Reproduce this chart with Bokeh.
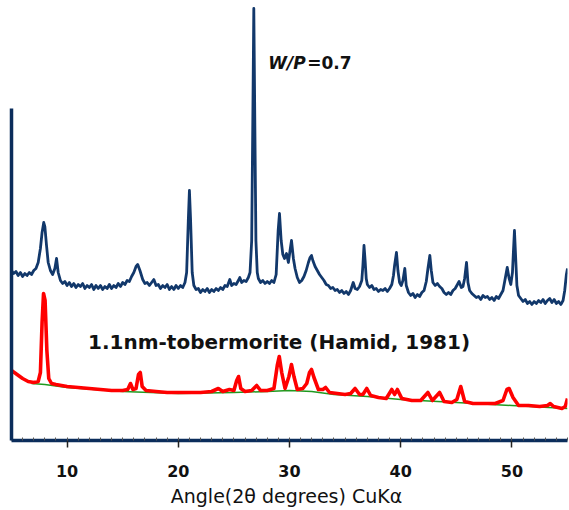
from bokeh.plotting import figure
from bokeh.models import Range1d, FixedTicker, Label
from bokeh.embed import file_html
from bokeh.resources import INLINE

# ---- data (2-theta in degrees, intensity in arbitrary units) ----
blue_x = [5.0, 5.2, 5.4, 5.6, 5.8, 6.0, 6.2, 6.4, 6.6, 6.8, 7.0, 7.2, 7.4, 7.6, 7.75, 7.9, 8.0, 8.15, 8.3, 8.5,
          8.7, 8.9, 9.05, 9.2,
          9.4, 9.6, 9.8, 10.0, 10.2, 10.4, 10.6, 10.8, 11.0, 11.2, 11.4, 11.6, 11.8, 12.0, 12.2, 12.4, 12.6, 12.8,
          13.0, 13.2, 13.4, 13.6, 13.8, 14.0, 14.2, 14.4, 14.6, 14.8, 15.0, 15.2, 15.4, 15.6, 15.8,
          16.0, 16.2, 16.35, 16.55,
          16.8, 17.0, 17.2, 17.4, 17.6, 17.8, 18.0, 18.2, 18.4, 18.6, 18.8, 19.0, 19.2, 19.4, 19.6, 19.8, 20.0,
          20.2, 20.4, 20.6,
          20.75, 20.9, 21.0, 21.1, 21.25,
          21.4, 21.6, 21.8, 22.0, 22.2, 22.4, 22.6, 22.8, 23.0, 23.2, 23.4, 23.6, 23.8, 24.0, 24.2, 24.4, 24.63,
          24.8, 25.0, 25.2, 25.4, 25.53, 25.7, 25.9, 26.1, 26.3, 26.45,
          26.6, 26.7, 26.79, 26.88, 26.98, 27.1,
          27.2, 27.4, 27.6, 27.8, 28.0, 28.2, 28.4, 28.6, 28.8,
          28.98, 29.1, 29.25, 29.4, 29.55, 29.73, 29.9, 30.05, 30.18, 30.35, 30.5, 30.7, 30.9, 31.1, 31.3, 31.5,
          31.7, 31.85, 31.98, 32.1, 32.3, 32.5, 32.7, 32.9,
          33.1, 33.3, 33.5, 33.7, 33.9, 34.1, 34.3, 34.5, 34.7, 34.9, 35.1, 35.3, 35.5,
          35.73, 35.9, 36.1, 36.3, 36.5, 36.6, 36.7, 36.8, 36.9, 37.0, 37.2, 37.4, 37.6, 37.8, 38.0, 38.2, 38.4,
          38.6, 38.8, 39.0, 39.2, 39.35, 39.45, 39.62, 39.75, 39.9, 40.05, 40.2, 40.37, 40.5, 40.7, 40.9, 41.1,
          41.3, 41.5, 41.7, 41.9, 42.1, 42.3, 42.45, 42.62, 42.75, 42.9, 43.1, 43.3, 43.5, 43.7, 43.9, 44.1, 44.3,
          44.5, 44.7, 44.9, 45.1, 45.25, 45.45, 45.6, 45.75, 45.92, 46.05, 46.2, 46.4, 46.6, 46.8, 47.0, 47.2,
          47.4, 47.6, 47.8, 48.0, 48.2, 48.4, 48.6, 48.8, 49.0, 49.2, 49.4, 49.58, 49.75, 49.9, 50.05, 50.15,
          50.23, 50.33, 50.45, 50.6, 50.8, 51.0, 51.2, 51.4, 51.6, 51.8, 52.0, 52.2, 52.4, 52.6, 52.8, 53.0, 53.2,
          53.4, 53.6, 53.8, 54.0, 54.2, 54.4, 54.6, 54.75, 54.9, 55.0]
blue_y = [170, 167, 169, 165, 168, 164, 167, 165, 168, 166, 170, 172, 178, 192, 208, 218, 214, 195, 178, 170,
          166, 172, 182, 168,
          160, 157, 159, 155, 158, 154, 157, 153, 156, 154, 157, 152, 155, 153, 156, 151, 155, 152,
          155, 151, 154, 152, 156, 152, 155, 153, 157, 154, 158, 156, 160, 159, 164,
          168, 174, 176, 170,
          161, 157, 158, 155, 158, 161, 155, 156, 152, 155, 153, 156, 151, 154, 151, 155, 152,
          155, 153, 158,
          168, 220, 250, 222, 168,
          155, 151, 152, 148, 151, 149, 152, 148, 151, 149, 152, 150, 153, 151, 155, 154, 161,
          155, 157, 156, 160, 163, 158, 160, 159, 163, 168,
          200, 320, 432, 320, 200, 168,
          162, 158, 160, 157, 159, 157, 160, 158, 166,
          210, 227, 200, 186, 182, 187, 178, 190, 200, 182, 172, 163, 158, 160, 164, 170,
          178, 183, 185, 180, 174, 170, 166, 163,
          160, 156, 155, 152, 153, 150, 151, 148, 150, 147, 149, 146, 150,
          158, 152, 151, 154, 160, 175, 195, 180, 162, 156, 153, 155, 151, 152, 149, 151, 150,
          152, 149, 152, 156, 165, 175, 188, 170, 158, 155, 160, 172, 155, 148, 145, 147,
          143, 146, 144, 148, 150, 159, 172, 185, 170, 158, 155, 157, 154, 152, 148, 146, 148,
          146, 150, 152, 156, 159, 153, 154, 162, 178, 158, 150, 147, 145, 143, 144, 141,
          145, 143, 144, 141, 143, 140, 144, 142, 146, 150, 162, 173, 162, 156, 168, 192,
          210, 185, 155, 145, 142, 139, 141, 137, 139, 136, 139, 137, 140, 138, 141, 137, 140,
          142, 138, 141, 137, 139, 136, 140, 150, 166, 172]

red_x = [5.0, 5.5, 6.0, 6.5, 7.0, 7.4, 7.6, 7.75, 7.88, 8.02, 8.18, 8.35, 8.6, 9.0, 10.0, 11.0, 12.0, 13.0, 14.0,
         15.0, 15.45, 15.7, 15.92, 16.2, 16.42, 16.58, 16.75, 17.1, 18.0, 19.0, 20.0, 21.0, 22.0, 23.0, 23.6, 24.0,
         24.6, 25.0, 25.25, 25.42, 25.62, 26.0, 26.6, 27.05, 27.4, 28.0, 28.6, 28.9, 29.08, 29.3, 29.6, 29.95,
         30.18, 30.4, 30.7, 31.2, 31.55, 31.8, 31.98, 32.2, 32.6, 33.0, 33.25, 33.6, 34.3, 35.0, 35.5, 35.9, 36.3,
         36.6, 36.95, 37.3, 38.0, 38.7, 39.2, 39.45, 39.7, 40.1, 41.0, 41.8, 42.45, 42.85, 43.5, 43.9, 44.6, 45.05,
         45.4, 45.75, 46.5, 47.5, 48.5, 49.2, 49.55, 49.75, 50.1, 50.6, 51.5, 52.5, 53.2, 53.45, 53.75, 54.5, 54.8,
         55.0]
red_y = [70, 66, 62, 59, 58, 59, 68, 118, 147, 140, 90, 62, 57, 56, 54, 53, 52, 51, 50,
         50, 51, 57, 51, 52, 66, 68, 54, 50, 49, 48, 48, 48, 48, 49, 52, 49,
         51, 50, 60, 64, 52, 49, 50, 55, 50, 50, 52, 75, 84, 68, 52, 64,
         76, 64, 51, 52, 57, 68, 71, 63, 51, 51, 53, 48, 47, 46, 47, 52, 46,
         46, 52, 45, 43, 42, 51, 46, 51, 42, 40, 40, 48, 40, 48, 39, 38, 41,
         54, 39, 37, 37, 37, 40, 51, 52, 43, 35, 35, 34, 35, 37, 34, 32, 34,
         42]

base_x = [6.8, 8.0, 10.0, 15.0, 20.0, 25.0, 28.0, 30.0, 32.0, 34.0, 37.0, 40.0, 45.0, 50.0, 55.0]
base_y = [57, 56, 53, 49, 47, 48, 49, 50, 49, 46, 44, 41, 38, 35, 32]

x_ticks = [10, 20, 30, 40, 50]
x_minor = list(range(5, 56))

NAVY = "#0b2d5b"
BLUE = "#12386b"

p = figure(width=569, height=510, output_backend="svg", toolbar_location=None,
           x_range=Range1d(5, 55), y_range=Range1d(0, 440),
           min_border_left=11, min_border_right=2, min_border_top=0, min_border_bottom=70)
p.outline_line_color = None
p.xgrid.visible = False
p.ygrid.visible = False
p.background_fill_color = "white"
p.border_fill_color = "white"

# traces
p.line(base_x, base_y, line_color="#1f9a1f", line_width=1.5)
p.line(red_x, red_y, line_color="#ff0000", line_width=3.6, line_join="round")
p.line(blue_x, blue_y, line_color=BLUE, line_width=2.8, line_join="round")

# x axis
xa = p.xaxis[0]
xa.ticker = FixedTicker(ticks=x_ticks, minor_ticks=x_minor)
xa.axis_line_color = NAVY
xa.axis_line_width = 3.5
xa.major_tick_line_color = "#222222"
xa.major_tick_line_width = 1.5
xa.major_tick_out = 7
xa.major_tick_in = 0
xa.minor_tick_line_color = "#555555"
xa.minor_tick_line_width = 1
xa.minor_tick_in = 3
xa.minor_tick_out = 0
xa.major_label_text_font = "DejaVu Sans"
xa.major_label_text_font_style = "bold"
xa.major_label_text_font_size = "16px"
xa.major_label_text_color = "#111111"
xa.major_label_standoff = 17
xa.axis_label = "Angle(2θ  degrees) CuKα"
xa.axis_label_text_font = "DejaVu Sans"
xa.axis_label_text_font_style = "normal"
xa.axis_label_text_font_size = "19px"
xa.axis_label_text_color = "#111111"
xa.axis_label_standoff = 5

# y axis: only a thick line, no ticks
ya = p.yaxis[0]
ya.ticker = FixedTicker(ticks=[])
ya.bounds = (0, 332)
ya.axis_line_color = NAVY
ya.axis_line_width = 3.5
ya.major_tick_line_color = None
ya.minor_tick_line_color = None
ya.major_tick_out = 0
ya.major_label_text_font_size = "0px"

# annotations
p.add_layout(Label(x=28.1, y=378, text="W/P", text_font="DejaVu Sans", text_font_style="bold italic",
                   text_font_size="17px", text_color="#111111", text_align="left", text_baseline="middle"))
p.add_layout(Label(x=31.6, y=378, text="=0.7", text_font="DejaVu Sans", text_font_style="bold",
                   text_font_size="17px", text_color="#111111", text_align="left", text_baseline="middle"))
p.add_layout(Label(x=29.06, y=99, text="1.1nm-tobermorite (Hamid, 1981)", text_font="DejaVu Sans",
                   text_font_style="bold", text_font_size="20px", text_color="#111111",
                   text_align="center", text_baseline="middle"))

open("out.html", "w").write(file_html(p, INLINE))
